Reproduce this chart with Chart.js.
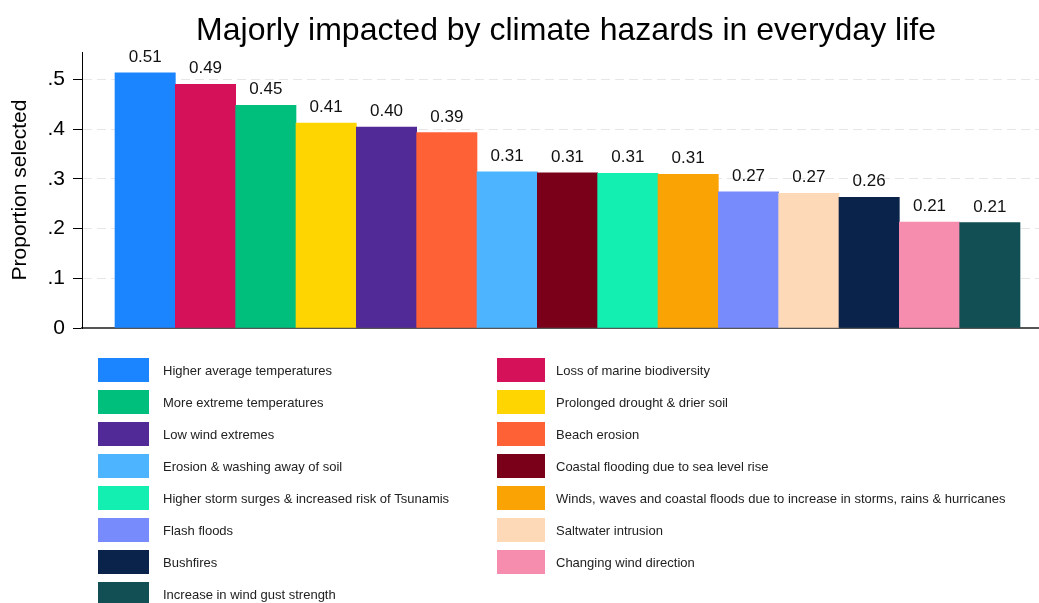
<!DOCTYPE html>
<html>
<head>
<meta charset="utf-8">
<title>Majorly impacted by climate hazards in everyday life</title>
<script src="https://cdn.jsdelivr.net/npm/chart.js@4.4.1/dist/chart.umd.min.js"></script>
<style>
  html, body { margin: 0; padding: 0; background: #ffffff; }
  #wrap { position: relative; width: 1039px; height: 603px; }
</style>
</head>
<body>
<div id="wrap"><canvas id="chart"></canvas></div>
<script>
// Hazards, in order of the share of respondents who selected them
const categories = [
  'Higher average temperatures',
  'Loss of marine biodiversity',
  'More extreme temperatures',
  'Prolonged drought & drier soil',
  'Low wind extremes',
  'Beach erosion',
  'Erosion & washing away of soil',
  'Coastal flooding due to sea level rise',
  'Higher storm surges & increased risk of Tsunamis',
  'Winds, waves and coastal floods due to increase in storms, rains & hurricanes',
  'Flash floods',
  'Saltwater intrusion',
  'Bushfires',
  'Changing wind direction',
  'Increase in wind gust strength'
];

const proportions = [0.513, 0.490, 0.448, 0.412, 0.404, 0.393, 0.314, 0.312, 0.311, 0.309, 0.274, 0.271, 0.263, 0.213, 0.212];

const barColors = [
  '#1a85ff', '#d41159', '#00bf7d', '#fed500', '#512a98',
  '#ff6136', '#4db5ff', '#7a0019', '#12efb1', '#f9a305',
  '#778bfd', '#fdd9b8', '#0a234b', '#f78dae', '#114f54'
];

const yTickLabels = ['0', '.1', '.2', '.3', '.4', '.5'];

const chartTitle = 'Majorly impacted by climate hazards in everyday life';
const yAxisTitle = 'Proportion selected';

const FONT = '"Liberation Sans", Arial, Helvetica, sans-serif';

// Title, bar value labels and the two-column key below the plot
const annotations = {
  id: 'annotations',
  afterDatasetsDraw(chart) {
    const ctx = chart.ctx;
    ctx.save();
    ctx.fillStyle = '#111';
    ctx.font = '17px ' + FONT;
    ctx.textAlign = 'center';
    ctx.textBaseline = 'alphabetic';
    const meta = chart.getDatasetMeta(0);
    meta.data.forEach((bar, i) => {
      ctx.fillText(proportions[i].toFixed(2), bar.x, bar.y - 11);
    });
    ctx.restore();
  },
  afterDraw(chart) {
    const ctx = chart.ctx;
    ctx.save();
    // title
    ctx.fillStyle = '#000';
    ctx.font = '32px ' + FONT;
    ctx.textAlign = 'center';
    ctx.textBaseline = 'alphabetic';
    ctx.fillText(chartTitle, 566, 40);

    // key
    const cols = [
      { sx: 98, sw: 51, tx: 163 },
      { sx: 497, sw: 48, tx: 556 }
    ];
    ctx.font = '13px ' + FONT;
    ctx.textAlign = 'left';
    ctx.textBaseline = 'middle';
    categories.forEach((name, i) => {
      const c = cols[i % 2];
      const y = 358 + Math.floor(i / 2) * 32;
      ctx.fillStyle = barColors[i];
      ctx.fillRect(c.sx, y, c.sw, 24);
      ctx.fillStyle = '#222';
      ctx.fillText(name, c.tx, y + 13);
    });
    ctx.restore();
  }
};

new Chart(document.getElementById('chart'), {
  type: 'bar',
  data: {
    labels: categories,
    datasets: [{
      data: proportions.map((v, i) => ({ x: i + 1, y: v })),
      backgroundColor: barColors,
      borderWidth: 0,
      barPercentage: 1,
      categoryPercentage: 1
    }]
  },
  options: {
    responsive: true,
    maintainAspectRatio: false,
    animation: false,
    events: [],
    layout: { padding: { top: 52, right: 0, bottom: 275, left: 0 } },
    plugins: {
      legend: { display: false },
      tooltip: { enabled: false },
      title: { display: false }
    },
    scales: {
      x: {
        type: 'linear',
        min: -0.047,
        max: 15.815,
        offset: false,
        grid: { display: false, drawTicks: false, offset: false },
        ticks: { display: false },
        border: { display: true, color: '#555555', width: 2 },
        afterFit(scale) { scale.height = 0; }
      },
      y: {
        min: 0,
        max: 0.555,
        ticks: {
          stepSize: 0.1,
          includeBounds: false,
          padding: 8,
          color: '#000',
          font: { family: FONT, size: 21 },
          callback: (v, i) => yTickLabels[i]
        },
        grid: {
          color: '#e6e6e6',
          lineWidth: 1,
          drawTicks: true,
          tickLength: 9,
          tickColor: '#000',
          tickWidth: 1
        },
        border: { display: true, color: '#000', width: 1, dash: [9, 5] },
        title: {
          display: true,
          text: yAxisTitle,
          color: '#000',
          font: { family: FONT, size: 21 },
          padding: { top: 8, bottom: 0 }
        },
        afterFit(scale) { scale.width = 82; }
      }
    }
  },
  plugins: [annotations]
});
</script>
</body>
</html>
